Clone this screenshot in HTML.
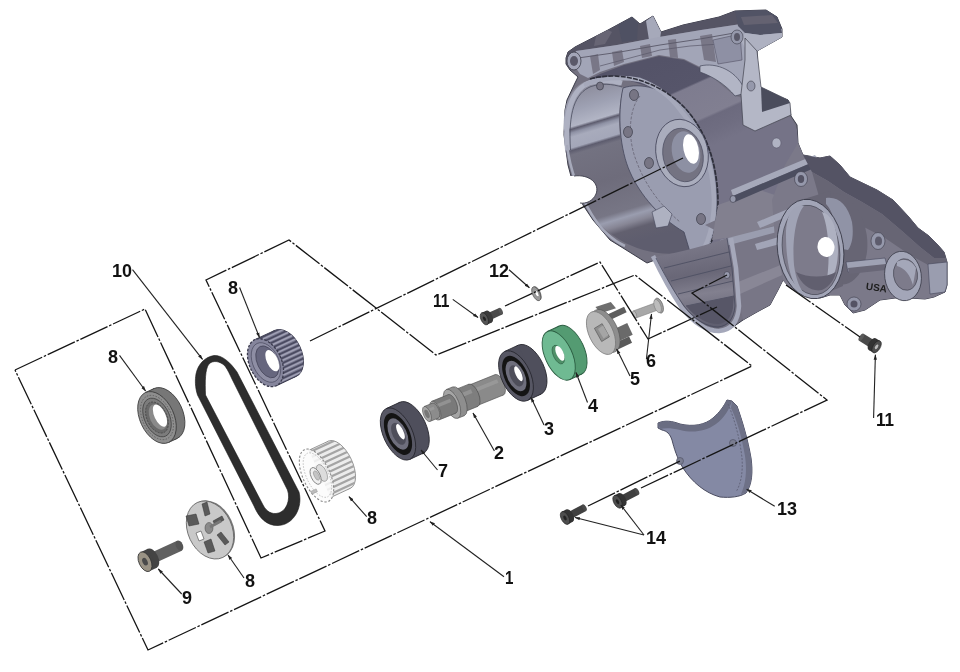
<!DOCTYPE html>
<html><head><meta charset="utf-8"><title>Exploded view</title>
<style>
html,body{margin:0;padding:0;background:#fff;width:960px;height:672px;overflow:hidden}
svg{display:block}
.lb{font-family:"Liberation Sans",sans-serif;font-weight:bold;font-size:18px;fill:#111}
.cl{fill:none;stroke:#151515;stroke-width:1.3;stroke-dasharray:30 1.8 2.5 1.8}
.ld{fill:none;stroke:#222;stroke-width:1.1}
</style></head>
<body>
<svg width="960" height="672" viewBox="0 0 960 672">
<defs>
<marker id="ah" viewBox="0 0 10 10" refX="9" refY="5" markerWidth="5" markerHeight="5" orient="auto"><path d="M0,2 L10,5 L0,8 z" fill="#222"/></marker>
</defs>
<rect width="960" height="672" fill="#fff"/>

<!-- ENGINE CASE -->
<g id="engine">
<defs>
<linearGradient id="gwall" gradientUnits="userSpaceOnUse" x1="585" y1="80" x2="633.8" y2="242.9">
<stop offset="0" stop-color="#878695"/><stop offset="0.15" stop-color="#9ea1b3"/><stop offset="0.24" stop-color="#b2b5c5"/><stop offset="0.255" stop-color="#5d5c6e"/><stop offset="0.275" stop-color="#8e91a4"/><stop offset="0.3" stop-color="#a8abbc"/><stop offset="0.36" stop-color="#a4a7b9"/><stop offset="0.375" stop-color="#5d5c6e"/><stop offset="0.4" stop-color="#737281"/><stop offset="0.6" stop-color="#6e6c7b"/><stop offset="0.8" stop-color="#777685"/><stop offset="0.84" stop-color="#9a9daf"/><stop offset="0.88" stop-color="#878695"/><stop offset="0.92" stop-color="#62606f"/><stop offset="1" stop-color="#5e5d6e"/>
</linearGradient>
<linearGradient id="gcyl" gradientUnits="userSpaceOnUse" x1="660" y1="60" x2="701" y2="151.2">
<stop offset="0" stop-color="#545368"/><stop offset="0.35" stop-color="#56556a"/><stop offset="0.37" stop-color="#7e7c8f"/><stop offset="0.7" stop-color="#817f91"/><stop offset="0.725" stop-color="#6c6a7e"/><stop offset="0.86" stop-color="#6f6d81"/><stop offset="1" stop-color="#757387"/>
</linearGradient>
<linearGradient id="globe" gradientUnits="userSpaceOnUse" x1="700" y1="245" x2="712" y2="325">
<stop offset="0" stop-color="#797787"/><stop offset="0.35" stop-color="#696777"/><stop offset="0.6" stop-color="#82808f"/><stop offset="1" stop-color="#5f5e6f"/>
</linearGradient>
</defs>
<polygon fill="#737180" stroke="#3a3b48" stroke-width="1" points="566,58 568,52 575,47 608,30 632,17 640,24 653,16 661,32 683,25 719,17 735,11 766,10 777,17 782,29 782,37 757,51 759,89 788,100 791,116 797,125 798,143 803,155 820,158 830,156 840,165 850,177 877,190 893,200 908,216 918,228 929,236 937,244 944,252 947,262 947,285 945,292 934,297 925,299 910,298 895,298 880,300 865,310 853,313 845,305 840,295 830,295 820,298 803,295 790,288 783,280 778,290 770,305 757,312 743,320 733,327 723,330 710,328 697,322 685,310 678,297 670,282 663,268 655,260 647,263 623,248 610,240 593,220 583,205 578,195 572,180 568,165 564,135 565,110 567,100 575,83 578,77 570,70 566,64"/>
<polygon fill="url(#gcyl)" points="588,80 600,74 624,65 659,56 684,60 700,68 712,77 725,88 735,96 743,98 755,131 789,117 792,119 797,130 798,143 803,155 808,175 795,200 770,230 750,255 705,262 712,240 717,200 712,160 700,130 684,108 659,90 624,79 600,78"/>
<polygon fill="#555464" points="566,58 568,52 575,47 608,30 632,17 640,24 653,16 661,32 683,25 719,17 735,11 766,10 777,17 782,29 760,25 741,24 701,30 659,37 617,45 576,51"/>
<polygon fill="#4f5163" points="618,25 632,17 638,23 637,40 622,42"/>
<polygon fill="#a6a9ba" points="646,21 653,16 661,32 660,39 649,40"/>
<polygon fill="#676574" points="596,36 608,30 612,32 605,44 594,46"/>
<polygon fill="#a2a5b7" points="576,51 617,45 659,37 701,30 741,24 760,25 782,29 782,37 757,51 746,50 745,92 735,95 725,86 712,76 700,67 684,59 659,55 624,64 600,72 588,78 580,74 576,68"/>
<g fill="#797787"><polygon points="590,56 598,54 600,70 593,74"/><polygon points="612,52 622,50 624,62 614,66"/><polygon points="640,46 650,44 652,56 642,58"/><polygon points="668,40 676,39 678,58 670,57"/><polygon points="700,36 712,34 716,62 704,60"/></g>
<polyline points="578,58 620,52 660,45 700,39 740,32" fill="none" stroke="#595868" stroke-width="0.9"/>
<polyline points="600,66 630,58 660,50 690,46 720,44" fill="none" stroke="#595868" stroke-width="0.7"/>
<path d="M700,66 C716,62 738,70 746,93 L735,96 C726,85 714,77 700,72 Z" fill="#b2b5c5" stroke="#45475a" stroke-width="0.7"/>
<path d="M713,40 L740,34 L742,60 L718,64 Z" fill="#8e90a4" stroke="#545364" stroke-width="0.6"/>
<polygon fill="#515365" points="735,11 766,10 777,17 781,28 782,33 760,35 745,33 738,26"/>
<polygon fill="#646271" points="741,17 772,15 778,23 744,25"/>
<polygon fill="#aeb1c1" points="745,33 760,35 782,33 782,37 757,51 746,50 741,40"/>
<polygon fill="#b4b7c6" stroke="#3f404c" stroke-width="0.7" points="745,38 757,51 761,87 788,100 790,103 791,115 755,131 743,125 741,94 745,60"/>
<polygon fill="#4a4c5c" points="761,87 788,100 790,103 762,112"/>
<path d="M564,135 C562,105 570,85 590,80 C602,78 613,80 623,88 C617,110 618,140 626,162 C635,190 652,212 684,232 L690,250 C670,258 640,252 620,240 C600,228 586,212 580,195 C572,175 565,160 564,135 Z" fill="url(#gwall)"/>
<path d="M623,88 C640,82 665,88 685,108 C703,128 716,160 717,195 C718,222 712,245 705,260 L690,252 L684,232 C660,218 640,195 630,172 C620,150 617,115 623,88 Z" fill="#9a9db0" stroke="#44465a" stroke-width="0.8"/>
<path d="M640,96 C628,110 628,140 636,160 C645,185 660,205 680,222" fill="none" stroke="#676575" stroke-width="0.8" stroke-dasharray="3 1.5"/>
<path d="M567.5,150 C564,110 572,89 590,82.5 C602,79 612,80 622,83" fill="none" stroke="#aeb1c2" stroke-width="5"/>
<path d="M570.5,150 C568,112 575,93 591,86.5 C602,83 612,84 622,87" fill="none" stroke="#4a4c5e" stroke-width="0.8"/>
<path d="M567,145 C570,170 578,192 592,215 C600,228 612,240 625,246" fill="none" stroke="#a6a9ba" stroke-width="2.5"/>
<path d="M584,85 C600,78 621,76 640,80 C657,86 670,96 681,111 C700,133 713,162 714,200 C714,233 704,255 690,266" fill="none" stroke="#a6a9bb" stroke-width="4.5"/>
<path d="M590,79 C622,70 660,82 685,108 C705,130 717,160 718,200 C718,235 707,258 692,270" fill="none" stroke="#2e2f3a" stroke-width="1.6" stroke-dasharray="5 1.2"/>
<path d="M566,176 L574,176 C590,174 600,184 596,194 C593,201 586,204 580,203 L572,203 Z" fill="#ffffff"/>
<path d="M574,176 C590,174 600,184 596,194 C593,201 586,204 580,203" fill="none" stroke="#3a3b48" stroke-width="0.9"/>
<ellipse cx="682" cy="153" rx="26" ry="34" transform="rotate(-12 682 153)" fill="#aaadbd" stroke="#44465a" stroke-width="0.8"/>
<ellipse cx="683" cy="155" rx="20" ry="27" transform="rotate(-12 683 155)" fill="#747382" stroke="#44465a" stroke-width="0.6"/>
<ellipse cx="686" cy="152" rx="14" ry="21" transform="rotate(-12 686 152)" fill="#8d90a3"/>
<ellipse cx="691" cy="149" rx="7.5" ry="15" transform="rotate(-12 691 149)" fill="#ffffff"/>
<g fill="#777584" stroke="#3c3d4a" stroke-width="0.7"><ellipse cx="634" cy="95" rx="4.5" ry="5.5"/><ellipse cx="628" cy="132" rx="4.5" ry="5.5"/><ellipse cx="649" cy="163" rx="4.5" ry="5.5"/><ellipse cx="701" cy="219" rx="4.5" ry="5.5"/><ellipse cx="659" cy="221" rx="4" ry="5"/><ellipse cx="600" cy="86" rx="3.5" ry="4"/></g>
<polygon fill="#aeb1c1" stroke="#44465a" stroke-width="0.6" points="652,212 664,206 672,214 668,226 656,228"/>
<polygon fill="#787686" points="705,225 760,200 790,205 790,288 783,280 778,290 770,305 757,312 743,320 739,300 736,260 730,238"/>
<polygon fill="#898796" points="738,282 788,262 789,272 740,294"/>
<polygon fill="#82808f" points="718,205 760,190 790,200 785,222 740,236 712,240"/>
<polygon fill="#9a9daf" points="720,240 775,226 777,232 722,247"/>
<path d="M655,257 C664,275 673,292 683,306 C694,320 707,328 718,328 C728,327 734,320 735,306 L731,262 L727,238 C705,246 680,252 655,257 Z" fill="url(#globe)"/>
<g stroke="#4e5063" stroke-width="0.9" fill="none"><path d="M664,268 L729,252"/><path d="M671,281 L731,266"/><path d="M678,294 L733,281"/><path d="M686,306 L734,296"/></g>
<path d="M686,306 C696,318 707,324 718,324 C726,323 731,318 733,308 L734,296 Z" fill="#575667"/>
<path d="M653,256 C662,275 672,293 682,308 C694,323 707,331 719,331 C731,330 738,322 739,306 L736,268 L731,238" fill="none" stroke="#a5a8ba" stroke-width="4.5"/>
<path d="M656,258 C665,276 675,293 684,306 C695,320 707,327 718,327 C728,326 734,319 735,306 L732,268 L727,238" fill="none" stroke="#45475a" stroke-width="0.8"/>
<polygon fill="#7b7989" points="798,143 803,155 820,158 830,156 840,165 850,177 877,190 893,200 908,216 918,228 929,236 937,244 944,252 947,262 947,285 945,292 934,297 925,299 910,298 895,298 880,300 865,310 853,313 845,305 840,295 830,295 820,298 803,295 790,288 783,280 775,240 772,200 785,165"/>
<polygon fill="#a6a9ba" points="731,190 815,155 818,160 733,196"/>
<polygon fill="#4c4e60" points="733,196 818,160 819,166 735,202"/>
<polygon fill="#a2a5b7" points="757,222 795,206 798,212 760,228"/>
<polygon fill="#a2a5b7" points="755,244 782,236 784,243 757,250"/>
<polygon fill="#545364" points="803,155 820,158 830,156 840,165 850,177 877,190 893,200 908,216 918,228 929,236 937,244 944,252 946,258 934,258 920,247 902,231 882,214 862,202 844,192 828,181 812,172"/>
<polygon fill="#676574" points="812,172 828,181 844,192 862,202 882,214 902,231 920,247 934,258 946,258 947,264 930,266 910,255 885,238 862,226 840,214 820,200"/>
<polygon fill="#9a9daf" stroke="#45475a" stroke-width="0.6" points="928,264 947,262 947,285 945,292 930,294"/>
<ellipse cx="837" cy="239" rx="30" ry="46" transform="rotate(-8 837 239)" fill="#676574"/>
<polygon fill="#676574" points="804,199 830,191 843,286 817,297"/>
<path d="M826,198 C838,196 848,205 852,222 C854,235 852,245 848,250 L836,248 C838,232 834,212 826,204 Z" fill="#9093a6"/>
<ellipse cx="810.5" cy="249" rx="33" ry="50" transform="rotate(-8 810.5 249)" fill="#a2a5b7" stroke="#3c3d4a" stroke-width="0.9"/>
<ellipse cx="811" cy="250" rx="28.5" ry="45" transform="rotate(-8 811 250)" fill="#7d7b8b" stroke="#3c3d4a" stroke-width="0.6"/>
<path d="M786,235 C786,210 796,204 804,206 C796,215 792,240 794,265 C796,280 800,290 806,295 C794,292 786,270 786,235 Z" fill="#a0a3b5"/>
<path d="M822,212 C832,214 838,230 838,250 C838,268 833,280 826,285 C830,265 830,230 822,212 Z" fill="#aeb1c1"/>
<path d="M796,272 C802,286 812,292 822,290 C830,286 834,280 836,272 C825,278 808,278 796,272 Z" fill="#615f6f"/>
<ellipse cx="826" cy="247" rx="8.5" ry="10" transform="rotate(-8 826 247)" fill="#ffffff"/>
<polygon fill="#9fa2b4" stroke="#44465a" stroke-width="0.6" points="846,262 885,258 887,266 848,272"/>
<polygon fill="#696777" points="848,268 886,264 886,270 849,274"/>
<ellipse cx="903" cy="276" rx="18.3" ry="24.8" transform="rotate(-8 903 276)" fill="#a3a6b8" stroke="#3c3d4a" stroke-width="0.8"/>
<ellipse cx="905.5" cy="274.5" rx="12" ry="15.8" transform="rotate(-8 905.5 274.5)" fill="#7d7b8b" stroke="#3c3d4a" stroke-width="0.6"/>
<path d="M897,262 C903,258 912,260 916,268 L913,285 C910,275 905,268 897,266 Z" fill="#a4a7b9"/>
<ellipse cx="878" cy="241" rx="7" ry="8.5" fill="#9598ab" stroke="#3c3d4a" stroke-width="0.6"/><ellipse cx="878.5" cy="241" rx="3.5" ry="4.5" fill="#5d5c6d"/>
<ellipse cx="854" cy="304" rx="7" ry="7" fill="#9598ab" stroke="#3c3d4a" stroke-width="0.6"/><ellipse cx="854" cy="304" rx="3.5" ry="3.5" fill="#545364"/>
<ellipse cx="801" cy="179" rx="6.5" ry="7.5" fill="#9598ab" stroke="#3c3d4a" stroke-width="0.6"/><ellipse cx="801" cy="179" rx="3.2" ry="4" fill="#545364"/>
<ellipse cx="733" cy="199" rx="3" ry="3.5" fill="#9598ab" stroke="#3c3d4a" stroke-width="0.6"/>
<ellipse cx="574" cy="61" rx="7" ry="9" fill="#a3a6b8" stroke="#3c3d4a" stroke-width="0.8"/><ellipse cx="574" cy="61" rx="4" ry="5" fill="#5a5969"/>
<ellipse cx="737" cy="37" rx="6" ry="7" fill="#9598ab" stroke="#3c3d4a" stroke-width="0.6"/><ellipse cx="737" cy="37" rx="3" ry="4" fill="#5a5969"/>
<ellipse cx="751" cy="86" rx="4" ry="5" fill="#9598ab" stroke="#3c3d4a" stroke-width="0.6"/>
<ellipse cx="776.5" cy="143" rx="4.5" ry="5" fill="#b0b3c3" stroke="#545364" stroke-width="0.5"/>
<ellipse cx="727" cy="275" rx="3" ry="3.5" fill="#9598ab" stroke="#3c3d4a" stroke-width="0.6"/>
<text x="866" y="291" font-family="Liberation Sans,sans-serif" font-weight="bold" font-size="10" fill="#1e1e1e" style="filter:grayscale(1)" transform="rotate(8 876 287)">USA</text>
</g>

<g id="parts">
<g transform="translate(157,417.5) rotate(-25)"><ellipse cx="9.5" cy="0" rx="17" ry="27.5" fill="#777777" stroke="#3a3a3a" stroke-width="0.8"/><rect x="0" y="-27.5" width="9.5" height="55.0" fill="#777777"/><line x1="0" y1="-27.5" x2="9.5" y2="-27.5" stroke="#3a3a3a" stroke-width="0.8"/><line x1="0" y1="27.5" x2="9.5" y2="27.5" stroke="#3a3a3a" stroke-width="0.8"/><ellipse cx="0" cy="0" rx="17" ry="27.5" fill="#8e8e8e" stroke="#3a3a3a" stroke-width="0.8"/><ellipse cx="0" cy="0" rx="14.5" ry="23.5" fill="none" stroke="#5a5a5a" stroke-width="0.8" stroke-dasharray="1.5 1.5"/><ellipse cx="0" cy="0" rx="12.5" ry="20.5" fill="#7c7c7c" stroke="#444" stroke-width="0.8"/><ellipse cx="0" cy="0" rx="10" ry="16.5" fill="#6a6a6a" stroke="#3a3a3a" stroke-width="0.6" stroke-dasharray="2 1.2"/><ellipse cx="1" cy="0" rx="8" ry="13.5" fill="#8a8a8a"/><ellipse cx="3.5" cy="-0.5" rx="5.5" ry="12" fill="#fff"/></g>
<g transform="translate(265.5,362.7) rotate(-25)"><defs><clipPath id="gclip"><ellipse cx="22" cy="0" rx="16" ry="25.4"/><rect x="0" y="-25.4" width="22" height="50.8"/></clipPath></defs><ellipse cx="22" cy="0" rx="16" ry="25.4" fill="#77778e" stroke="#3b3b4e" stroke-width="0.9"/><rect x="0" y="-25.4" width="22" height="50.8" fill="#77778e"/><g clip-path="url(#gclip)"><rect x="-2" y="-25.4" width="42" height="1.6" fill="#4a4a60"/><rect x="-2" y="-23.2" width="42" height="1.4" fill="#a2a2b6"/><rect x="-2" y="-20.8" width="42" height="1.6" fill="#4a4a60"/><rect x="-2" y="-18.6" width="42" height="1.4" fill="#a2a2b6"/><rect x="-2" y="-16.2" width="42" height="1.6" fill="#4a4a60"/><rect x="-2" y="-14.0" width="42" height="1.4" fill="#a2a2b6"/><rect x="-2" y="-11.6" width="42" height="1.6" fill="#4a4a60"/><rect x="-2" y="-9.4" width="42" height="1.4" fill="#a2a2b6"/><rect x="-2" y="-7.0" width="42" height="1.6" fill="#4a4a60"/><rect x="-2" y="-4.8" width="42" height="1.4" fill="#a2a2b6"/><rect x="-2" y="-2.4" width="42" height="1.6" fill="#4a4a60"/><rect x="-2" y="-0.2" width="42" height="1.4" fill="#a2a2b6"/><rect x="-2" y="2.2" width="42" height="1.6" fill="#4a4a60"/><rect x="-2" y="4.4" width="42" height="1.4" fill="#a2a2b6"/><rect x="-2" y="6.8" width="42" height="1.6" fill="#4a4a60"/><rect x="-2" y="9.0" width="42" height="1.4" fill="#a2a2b6"/><rect x="-2" y="11.4" width="42" height="1.6" fill="#4a4a60"/><rect x="-2" y="13.6" width="42" height="1.4" fill="#a2a2b6"/><rect x="-2" y="16.0" width="42" height="1.6" fill="#4a4a60"/><rect x="-2" y="18.2" width="42" height="1.4" fill="#a2a2b6"/><rect x="-2" y="20.6" width="42" height="1.6" fill="#4a4a60"/><rect x="-2" y="22.8" width="42" height="1.4" fill="#a2a2b6"/><rect x="-2" y="25.2" width="42" height="1.6" fill="#4a4a60"/><rect x="-2" y="27.4" width="42" height="1.4" fill="#a2a2b6"/></g><line x1="0" y1="-25.4" x2="22" y2="-25.4" stroke="#3b3b4e" stroke-width="0.9"/><line x1="0" y1="25.4" x2="22" y2="25.4" stroke="#3b3b4e" stroke-width="0.9"/><ellipse cx="0" cy="0" rx="16" ry="25.4" fill="#85859c" stroke="#3b3b4e" stroke-width="1.3" stroke-dasharray="2.5 1.5"/><ellipse cx="0.5" cy="0" rx="13" ry="21" fill="#8e8ea4" stroke="#45455a" stroke-width="0.6"/><ellipse cx="2" cy="0" rx="10" ry="17" fill="#66667e" stroke="#3b3b4e" stroke-width="0.6"/><ellipse cx="7" cy="1" rx="5.5" ry="11.5" fill="#fff"/></g>
<g transform="translate(319.5,474.0) rotate(-25)"><defs><clipPath id="gclip2"><ellipse cx="22" cy="0" rx="13" ry="26"/><rect x="0" y="-26" width="22" height="52"/></clipPath></defs><ellipse cx="22" cy="0" rx="13" ry="26" fill="#ececec" stroke="#8a8a8a" stroke-width="0.8"/><rect x="0" y="-26" width="22" height="52" fill="#ececec"/><g clip-path="url(#gclip2)"><rect x="0" y="-25.0" width="39" height="2.2" fill="#a4a4a4"/><rect x="0" y="-19.8" width="39" height="2.2" fill="#a4a4a4"/><rect x="0" y="-14.6" width="39" height="2.2" fill="#a4a4a4"/><rect x="0" y="-9.4" width="39" height="2.2" fill="#a4a4a4"/><rect x="0" y="-4.2" width="39" height="2.2" fill="#a4a4a4"/><rect x="0" y="1.0" width="39" height="2.2" fill="#a4a4a4"/><rect x="0" y="6.2" width="39" height="2.2" fill="#a4a4a4"/><rect x="0" y="11.4" width="39" height="2.2" fill="#a4a4a4"/><rect x="0" y="16.6" width="39" height="2.2" fill="#a4a4a4"/><rect x="0" y="21.8" width="39" height="2.2" fill="#a4a4a4"/></g><line x1="0" y1="-26" x2="22" y2="-26" stroke="#8a8a8a" stroke-width="0.8"/><line x1="0" y1="26" x2="22" y2="26" stroke="#8a8a8a" stroke-width="0.8"/></g><g transform="translate(316.5,475.5) rotate(-25)"><ellipse cx="0" cy="0" rx="13.5" ry="28.5" fill="#fbfbfb" fill-opacity="0.85" stroke="#8a8a8a" stroke-width="1.1" stroke-dasharray="2.2 1.8"/><ellipse cx="1" cy="0" rx="11" ry="24" fill="none" stroke="#b0b0b0" stroke-width="0.7" stroke-dasharray="1.5 1.5"/><rect x="-1" y="-9" width="7" height="18" fill="#e8e8e8"/><ellipse cx="6" cy="0" rx="4.5" ry="9" fill="#dcdcdc" stroke="#888" stroke-width="0.6"/><ellipse cx="-1" cy="0" rx="4.5" ry="9" fill="#f0f0f0" stroke="#777" stroke-width="0.8"/><ellipse cx="0" cy="0" rx="2.3" ry="5" fill="#c4c4c4" stroke="#888" stroke-width="0.5"/><rect x="-12" y="12" width="6" height="3" fill="#bdbdbd" stroke="#888" stroke-width="0.4"/></g>
<g transform="translate(210,530) rotate(-25)"><ellipse cx="1.5" cy="0" rx="22" ry="30.3" fill="#7a7a7a"/><ellipse cx="0" cy="0" rx="22" ry="30.3" fill="#c9c9c9" stroke="#666" stroke-width="0.8"/></g><g fill="#5a5a5a" stroke="#333" stroke-width="0.5"><polygon points="186,516 196,514 199,524 189,526"/><polygon points="202,504 207,502 210,514 205,516"/><polygon points="213,521 222,516 224,520 215,525"/><polygon points="217,535 221,532 229,542 225,545"/><polygon points="204,542 211,539 215,551 208,553"/></g><polygon points="196,533 201,531 204,539 199,541" fill="#fff" stroke="#444" stroke-width="0.6"/><ellipse cx="209" cy="528" rx="4" ry="5.5" fill="#8a8a8a" stroke="#444" stroke-width="0.5"/><line x1="210" y1="527" x2="221" y2="521" stroke="#777" stroke-width="3"/>
<g transform="translate(145,561.7) rotate(-25)"><rect x="8" y="-5.5" width="30" height="11" fill="#606060"/><ellipse cx="38" cy="0" rx="3.5" ry="5.5" fill="#555"/><ellipse cx="8" cy="0" rx="6" ry="10.5" fill="#444"/><rect x="0" y="-10.5" width="8" height="21" fill="#444"/><ellipse cx="0" cy="0" rx="6" ry="10.5" fill="#9a9385" stroke="#333" stroke-width="0.8"/><ellipse cx="0" cy="0" rx="2.5" ry="4" fill="#4a4a4a"/></g>
<g transform="translate(398,434) rotate(-25)"><ellipse cx="15" cy="0" rx="14.5" ry="28" fill="#4f4f5c" stroke="#26262e" stroke-width="0.8"/><rect x="0" y="-28" width="15" height="56" fill="#4f4f5c"/><line x1="0" y1="-28" x2="15" y2="-28" stroke="#26262e" stroke-width="0.8"/><line x1="0" y1="28" x2="15" y2="28" stroke="#26262e" stroke-width="0.8"/><ellipse cx="0" cy="0" rx="14.5" ry="28" fill="#575764" stroke="#26262e" stroke-width="0.8"/><ellipse cx="0" cy="0" rx="11.600000000000001" ry="22.400000000000002" fill="#141414"/><ellipse cx="0" cy="0" rx="8.7" ry="16.8" fill="#6e6e7c"/><ellipse cx="0.5" cy="0" rx="6.09" ry="11.76" fill="#4e4e5a"/><ellipse cx="3.19" cy="-1" rx="2.9000000000000004" ry="8.4" fill="#fff"/></g>
<g transform="translate(427,414) rotate(-22)"><ellipse cx="78" cy="0" rx="4.95" ry="11" fill="#8a8a8a" stroke="#444" stroke-width="0.5"/><rect x="50" y="-11" width="28" height="22" fill="#8a8a8a"/><rect x="50" y="-6.050000000000001" width="28" height="3.8499999999999996" fill="#a2a2a2" opacity="0.6"/><line x1="50" y1="-11" x2="78" y2="-11" stroke="#555" stroke-width="0.6"/><line x1="50" y1="11" x2="78" y2="11" stroke="#555" stroke-width="0.6"/><ellipse cx="50" cy="0" rx="4.95" ry="11" fill="#a5a5a5" stroke="#555" stroke-width="0.6"/><ellipse cx="50" cy="0" rx="5.4" ry="12" fill="#7e7e7e" stroke="#444" stroke-width="0.5"/><rect x="34" y="-12" width="16" height="24" fill="#7e7e7e"/><rect x="34" y="-6.6000000000000005" width="16" height="4.199999999999999" fill="#a2a2a2" opacity="0.6"/><line x1="34" y1="-12" x2="50" y2="-12" stroke="#555" stroke-width="0.6"/><line x1="34" y1="12" x2="50" y2="12" stroke="#555" stroke-width="0.6"/><ellipse cx="34" cy="0" rx="5.4" ry="12" fill="#a5a5a5" stroke="#555" stroke-width="0.6"/><ellipse cx="34" cy="0" rx="6.9750000000000005" ry="15.5" fill="#8e8e8e" stroke="#444" stroke-width="0.5"/><rect x="27" y="-15.5" width="7" height="31.0" fill="#8e8e8e"/><rect x="27" y="-8.525" width="7" height="5.425" fill="#a2a2a2" opacity="0.6"/><line x1="27" y1="-15.5" x2="34" y2="-15.5" stroke="#555" stroke-width="0.6"/><line x1="27" y1="15.5" x2="34" y2="15.5" stroke="#555" stroke-width="0.6"/><ellipse cx="27" cy="0" rx="6.9750000000000005" ry="15.5" fill="#a5a5a5" stroke="#555" stroke-width="0.6"/><ellipse cx="27" cy="0" rx="4.5" ry="10" fill="#7a7a7a" stroke="#444" stroke-width="0.5"/><rect x="9" y="-10" width="18" height="20" fill="#7a7a7a"/><rect x="9" y="-5.5" width="18" height="3.5" fill="#a2a2a2" opacity="0.6"/><line x1="9" y1="-10" x2="27" y2="-10" stroke="#555" stroke-width="0.6"/><line x1="9" y1="10" x2="27" y2="10" stroke="#555" stroke-width="0.6"/><ellipse cx="9" cy="0" rx="4.5" ry="10" fill="#a5a5a5" stroke="#555" stroke-width="0.6"/><ellipse cx="9" cy="0" rx="3.6" ry="8" fill="#8c8c8c" stroke="#444" stroke-width="0.5"/><rect x="0" y="-8" width="9" height="16" fill="#8c8c8c"/><rect x="0" y="-4.4" width="9" height="2.8" fill="#a2a2a2" opacity="0.6"/><line x1="0" y1="-8" x2="9" y2="-8" stroke="#555" stroke-width="0.6"/><line x1="0" y1="8" x2="9" y2="8" stroke="#555" stroke-width="0.6"/><ellipse cx="0" cy="0" rx="3.6" ry="8" fill="#a5a5a5" stroke="#555" stroke-width="0.6"/><ellipse cx="0" cy="0" rx="2.2" ry="4.5" fill="#777"/></g>
<g transform="translate(516,376) rotate(-25)"><ellipse cx="15" cy="0" rx="14.5" ry="27" fill="#4f4f5c" stroke="#26262e" stroke-width="0.8"/><rect x="0" y="-27" width="15" height="54" fill="#4f4f5c"/><line x1="0" y1="-27" x2="15" y2="-27" stroke="#26262e" stroke-width="0.8"/><line x1="0" y1="27" x2="15" y2="27" stroke="#26262e" stroke-width="0.8"/><ellipse cx="0" cy="0" rx="14.5" ry="27" fill="#575764" stroke="#26262e" stroke-width="0.8"/><ellipse cx="0" cy="0" rx="11.600000000000001" ry="21.6" fill="#141414"/><ellipse cx="0" cy="0" rx="8.7" ry="16.2" fill="#6e6e7c"/><ellipse cx="0.5" cy="0" rx="6.09" ry="11.34" fill="#4e4e5a"/><ellipse cx="3.19" cy="-1" rx="2.9000000000000004" ry="8.1" fill="#fff"/></g>
<g transform="translate(558.7,355.5) rotate(-25)"><ellipse cx="13" cy="0" rx="13.5" ry="26.5" fill="#549b72" stroke="#2c5e42" stroke-width="0.9"/><rect x="0" y="-26.5" width="13" height="53.0" fill="#549b72"/><line x1="0" y1="-26.5" x2="13" y2="-26.5" stroke="#2c5e42" stroke-width="0.9"/><line x1="0" y1="26.5" x2="13" y2="26.5" stroke="#2c5e42" stroke-width="0.9"/><ellipse cx="0" cy="0" rx="13.5" ry="26.5" fill="#6fba92" stroke="#2c5e42" stroke-width="0.9"/><ellipse cx="0" cy="-1" rx="5" ry="10" fill="#4f9068" stroke="#2c5e42" stroke-width="0.6"/><ellipse cx="2" cy="-1.5" rx="3.5" ry="8" fill="#fff"/></g>
<g transform="translate(601,333) rotate(-25)"><polygon points="6,-26 22,-24 24,-16 8,-18" fill="#6e6e6e"/><rect x="6" y="-14" width="26" height="6" fill="#5e5e5e"/><rect x="6" y="2" width="22" height="13" fill="#6a6a6a"/><rect x="6" y="15" width="18" height="7" fill="#5a5a5a"/><ellipse cx="5" cy="0" rx="12" ry="23" fill="#8d8d8d" stroke="#555" stroke-width="0.6"/><rect x="0" y="-23" width="5" height="46" fill="#8d8d8d"/><ellipse cx="0" cy="0" rx="12" ry="23" fill="#b8b8b8" stroke="#777" stroke-width="0.7"/><polygon points="-4,-7 5,-8 6,7 -3,8" fill="#8e8e8e" stroke="#555" stroke-width="0.6"/><polygon points="-1,-5 5,-6 6,5 0,6" fill="#a5a5a5"/></g>
<g transform="translate(659,305.6) rotate(-20)"><rect x="-26" y="-3.8" width="25" height="7.6" fill="#a8a8a8" stroke="#777" stroke-width="0.5"/><ellipse cx="-26" cy="0" rx="1.8" ry="3.8" fill="#bdbdbd" stroke="#777" stroke-width="0.5"/><ellipse cx="0" cy="0" rx="3.8" ry="7.8" fill="#a0a0a0" stroke="#666" stroke-width="0.7"/><ellipse cx="-1.5" cy="0" rx="3.2" ry="7" fill="#bcbcbc" stroke="#777" stroke-width="0.5"/></g>
<g transform="translate(484.4,318.75) rotate(-25)"><rect x="5" y="-3.6" width="13" height="7.2" fill="#4a4a4a"/><ellipse cx="18" cy="0" rx="1.8" ry="3.6" fill="#555"/><rect x="0" y="-6.5" width="5" height="13" fill="#3a3a3a"/><ellipse cx="5" cy="0" rx="3.5" ry="6.5" fill="#3a3a3a"/><ellipse cx="0" cy="0" rx="3.5" ry="6.5" fill="#555" stroke="#222" stroke-width="0.6"/><ellipse cx="0" cy="0" rx="1.3" ry="2.5" fill="#222"/></g>
<g transform="translate(536.25,293.75) rotate(-25)"><ellipse cx="1" cy="0" rx="3.6" ry="7.5" fill="#777"/><ellipse cx="0" cy="0" rx="3.6" ry="7.5" fill="#9a9a9a" stroke="#555" stroke-width="0.7"/><ellipse cx="0.6" cy="0" rx="1.6" ry="3.6" fill="#fff" stroke="#666" stroke-width="0.5"/></g>
<g transform="translate(565,518) rotate(-28)"><rect x="5" y="-3.7" width="17" height="7.4" fill="#404040"/><ellipse cx="22" cy="0" rx="1.8" ry="3.7" fill="#4a4a4a"/><rect x="0" y="-7" width="5" height="14" fill="#333"/><ellipse cx="5" cy="0" rx="3.8" ry="7" fill="#333"/><ellipse cx="0" cy="0" rx="3.8" ry="7" fill="#4e4e4e" stroke="#222" stroke-width="0.6"/><ellipse cx="0" cy="0" rx="1.4" ry="2.6" fill="#222"/></g>
<g transform="translate(617.5,501.7) rotate(-28)"><rect x="5" y="-3.7" width="17" height="7.4" fill="#404040"/><ellipse cx="22" cy="0" rx="1.8" ry="3.7" fill="#4a4a4a"/><rect x="0" y="-7" width="5" height="14" fill="#333"/><ellipse cx="5" cy="0" rx="3.8" ry="7" fill="#333"/><ellipse cx="0" cy="0" rx="3.8" ry="7" fill="#4e4e4e" stroke="#222" stroke-width="0.6"/><ellipse cx="0" cy="0" rx="1.4" ry="2.6" fill="#222"/></g>
<g transform="translate(876.6,346.8) rotate(212)"><rect x="5" y="-4.2" width="13" height="8.4" fill="#4a4a4a"/><ellipse cx="18" cy="0" rx="2" ry="4.2" fill="#5a5a5a"/><rect x="0" y="-6.8" width="5" height="13.6" fill="#333"/><ellipse cx="5" cy="0" rx="3.6" ry="6.8" fill="#333"/><ellipse cx="0" cy="0" rx="3.6" ry="6.8" fill="#4e4e4e" stroke="#222" stroke-width="0.6"/><ellipse cx="0" cy="0" rx="1.4" ry="2.6" fill="#bbb"/></g>
<path d="M658,423 C665,420 672,421 680,424 C693,427 705,425 713,418 C720,412 724,406 727,400 L732,401 L737,406 C742,420 748,440 751,458 C753,472 752,485 746,493 C740,497 730,498 720,497 C705,493 692,482 683,468 C677,458 674,448 672,440 C670,434 667,431 662,430 L658,428 Z" fill="#8489a4" stroke="#4a4c60" stroke-width="1"/><path d="M658,423 C665,420 672,421 680,424 C693,427 705,425 713,418 C720,412 724,406 727,400 L732,401 C729,410 724,418 716,424 C705,432 692,433 680,430 C672,428 665,428 660,429 Z" fill="#6a6d82"/><path d="M732,401 L737,406 C742,420 748,440 751,458 C753,472 752,485 746,493 L741,494 C746,484 747,470 745,456 C742,438 737,420 731,408 Z" fill="#6e7187"/><path d="M728,404 C735,420 740,440 742,458 C743,472 741,484 736,492" fill="none" stroke="#5a5c70" stroke-width="0.8" stroke-dasharray="2 1.5"/><ellipse cx="680" cy="461" rx="3.5" ry="3.5" fill="#7a7d90" stroke="#4a4c60" stroke-width="0.6"/><ellipse cx="733" cy="443" rx="3.5" ry="3.5" fill="#7a7d90" stroke="#4a4c60" stroke-width="0.6"/>
<path fill-rule="evenodd" fill="#2d2d2d" stroke="#151515" stroke-width="0.6" d="M197.5,395 C195,387 195,380 196,374 C198,364 205,357 214,355.5 C222,355 230,362 237,372 L299,492 C303,507 294,525 278,525.5 C267,526 259,518 254,506 Z M205.5,395 C205,382 205,369 209,364 C213,360 220,361 225,366 C228,370 230,375 232,379 L287.5,490 C291,500 286,513 276,513.5 C269,514 265,509 262.5,504 Z"/>
</g>
<!-- CENTER / FRAME LINES -->
<g id="lines">
<polyline class="cl" points="15,370 145,309 261,558 325,531 206,280 289,240 436,355 635,275 752,366 148,650 15,370"/>
<polyline class="cl" points="310,341 683,158"/>
<polyline class="cl" points="505,306 600,262 648,339 717,307"/>
<polyline class="cl" points="641,488 827,400 692,293 727,275"/>
<polyline class="cl" points="588,506 680,461"/>
<polyline class="cl" points="786,285 860,337"/>
</g>

<!-- LEADERS -->
<g id="leaders" class="ld">
<line x1="132.5" y1="269.6" x2="202.5" y2="359.3" marker-end="url(#ah)"/>
<line x1="239.6" y1="287.5" x2="259.5" y2="337.5" marker-end="url(#ah)"/>
<line x1="119.5" y1="355.4" x2="145.6" y2="391" marker-end="url(#ah)"/>
<line x1="509" y1="269.75" x2="529.4" y2="287.75" marker-end="url(#ah)"/>
<line x1="452.75" y1="299.4" x2="478" y2="317.5" marker-end="url(#ah)"/>
<line x1="646.4" y1="359.2" x2="651.5" y2="314" marker-end="url(#ah)"/>
<line x1="630" y1="376" x2="616.7" y2="349" marker-end="url(#ah)"/>
<line x1="587.5" y1="402.5" x2="576" y2="372.5" marker-end="url(#ah)"/>
<line x1="544" y1="425" x2="531" y2="397.5" marker-end="url(#ah)"/>
<line x1="494.4" y1="451" x2="473" y2="413" marker-end="url(#ah)"/>
<line x1="437.5" y1="470" x2="421" y2="450" marker-end="url(#ah)"/>
<line x1="366.7" y1="516.7" x2="349" y2="496.7" marker-end="url(#ah)"/>
<line x1="244" y1="578" x2="228" y2="555" marker-end="url(#ah)"/>
<line x1="181.7" y1="594" x2="158.3" y2="569" marker-end="url(#ah)"/>
<line x1="504" y1="576.7" x2="430" y2="521.7" marker-end="url(#ah)"/>
<line x1="873.6" y1="418" x2="875.4" y2="354.8" marker-end="url(#ah)"/>
<line x1="774.7" y1="506.3" x2="746.7" y2="489.2" marker-end="url(#ah)"/>
<line x1="644" y1="535" x2="575" y2="517.5" marker-end="url(#ah)"/>
<line x1="644" y1="535" x2="620.8" y2="505" marker-end="url(#ah)"/>
</g>

<!-- LABELS -->
<g id="labels" style="filter:grayscale(1)">
<text class="lb" x="112" y="277">10</text>
<text class="lb" x="228" y="294.3">8</text>
<text class="lb" x="108" y="362.9">8</text>
<text class="lb" x="489" y="276.9">12</text>
<text class="lb" x="433" y="306.5" textLength="16.4" lengthAdjust="spacingAndGlyphs">11</text>
<text class="lb" x="646" y="367">6</text>
<text class="lb" x="630" y="385">5</text>
<text class="lb" x="588" y="411.7">4</text>
<text class="lb" x="544" y="435">3</text>
<text class="lb" x="494" y="459.4">2</text>
<text class="lb" x="438" y="476.9">7</text>
<text class="lb" x="367" y="524.2">8</text>
<text class="lb" x="245" y="586.7">8</text>
<text class="lb" x="182" y="604.2">9</text>
<text class="lb" x="505" y="584.2" textLength="8.4" lengthAdjust="spacingAndGlyphs">1</text>
<text class="lb" x="876" y="426.2" textLength="18" lengthAdjust="spacingAndGlyphs">11</text>
<text class="lb" x="777" y="514.7">13</text>
<text class="lb" x="646" y="543.7">14</text>
</g>
</svg>
</body></html>
